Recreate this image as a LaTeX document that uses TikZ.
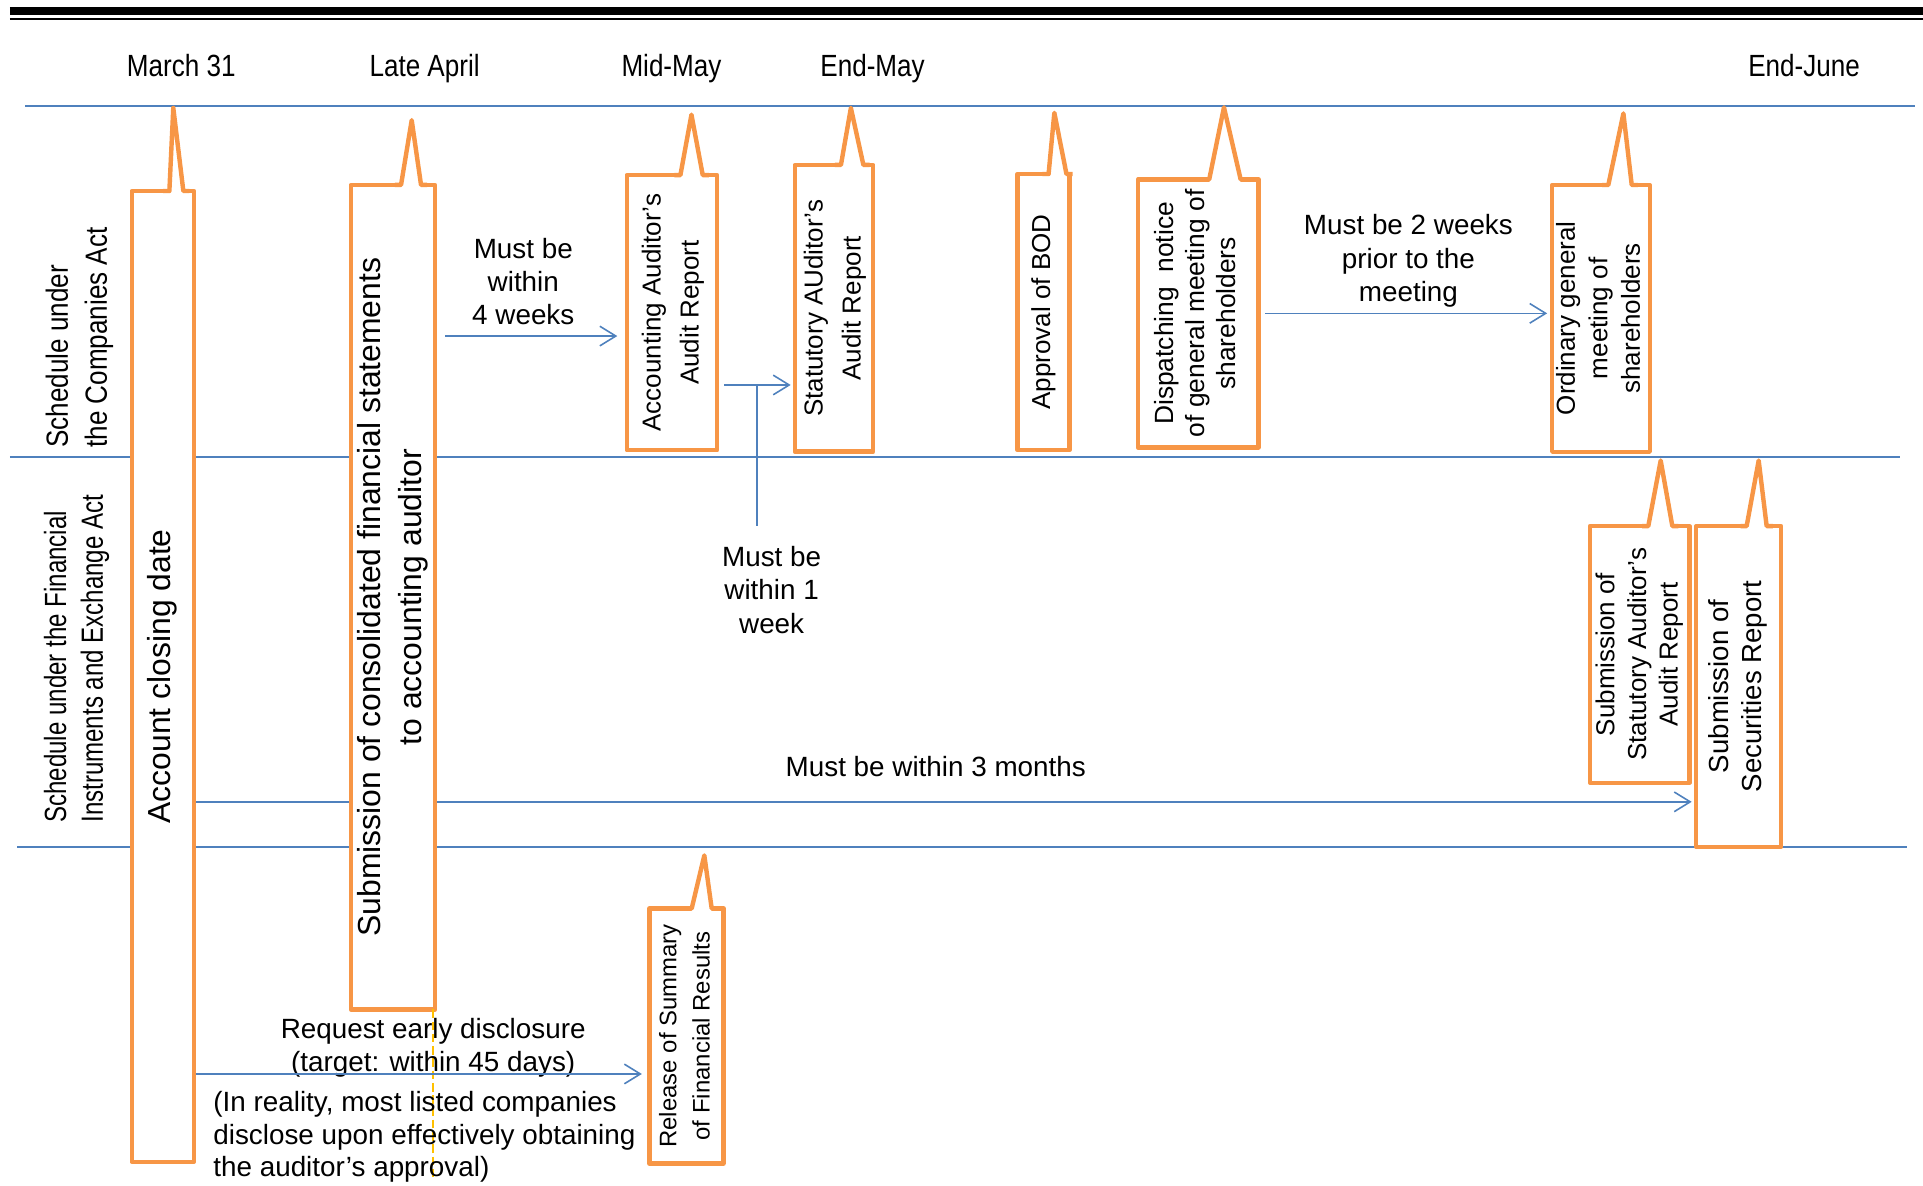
\documentclass[tikz,border=0pt]{standalone}
\usepackage{fontspec}
\setmainfont{Liberation Sans}
\newfontfamily\condfont[FakeStretch=0.85]{Liberation Sans}
\newfontfamily\condfontB[FakeStretch=0.785]{Liberation Sans}
\usepackage{graphicx}
\usetikzlibrary{positioning, backgrounds, arrows.meta, calc}

\definecolor{calloutorange}{RGB}{247,150,70}
\definecolor{lineblue}{RGB}{79,129,189}
\definecolor{guideyellow}{RGB}{255,192,0}

\tikzset{
	rule/.style={draw=lineblue, line width=1.4pt},
	link/.style={draw=lineblue, line width=1.3pt, -{Straight Barb[length=13pt,width=16pt]}},
	card/.style={draw=calloutorange, fill=white, line width=3.6pt, line join=round, inner sep=0pt, outer sep=0pt, font={\fontsize{21.2}{26.5}\selectfont}},
	card edge/.style={draw=calloutorange, line width=3.6pt, line join=round},
	datelbl/.style={anchor=base, inner sep=0pt, font={\condfont\fontsize{25}{30}\selectfont}},
	actlbl/.style={rotate=90, anchor=west, align=left, inner sep=0pt},
	note/.style={align=center, inner sep=0pt, font={\fontsize{22.7}{27.2}\selectfont}}
}

\newcommand{\vlabel}[1]{\rotatebox{90}{\begin{tabular}{@{}c@{}}#1\end{tabular}}}
\newcommand{\spike}[4]{%
	\fill[white] ($(#1.north -| #2,0)+(0,2.5)$) -- (#1.north -| #2,0) -- (#4) -- (#1.north -| #3,0) -- ($(#1.north -| #3,0)+(0,2.5)$) -- cycle;
	\draw[card edge] ($(#1.north -| #2,0)+(-5,0)$) -- (#1.north -| #2,0) -- (#4) -- (#1.north -| #3,0) -- ($(#1.north -| #3,0)+(5,0)$);
}

\begin{document}
\begin{tikzpicture}[x=1pt, y=-1pt]
	\useasboundingbox (0,0) rectangle (1568,967);
	\draw[line width=6.2pt] (8,9.1) -- (1568,9.1);
	\draw[line width=2.2pt] (8,15.5) -- (1568,15.5);

	\node[datelbl] (mar31) at (147.8,62) {March 31};
	\node[datelbl] (lateapr) at (346.2,62) {Late April};
	\node[datelbl] (midmay) at (547.5,62) {Mid-May};
	\node[datelbl] (endmay) at (711.5,62) {End-May};
	\node[datelbl] (endjun) at (1471,62) {End-June};

	\node[actlbl, font={\condfont\fontsize{25}{31.8}\selectfont}] (compact) at (64.8,365.2) {Schedule under\\the Companies Act};
	\node[actlbl, font={\condfontB\fontsize{25}{29.9}\selectfont}] (fieact) at (62.5,671) {Schedule under the Financial\\Instruments and Exchange Act};

	\node[card, minimum width=50.8pt, minimum height=791.5pt, font={\fontsize{26}{32}\selectfont}] (close) at (132.8,551.5) {\vlabel{Account closing date}};
	\spike{close}{138.1}{149.5}{141.3,88}
	\node[card, minimum width=68.7pt, minimum height=672.2pt, font={\fontsize{26}{33}\selectfont}] (subm) at (320.4,486.9) {\vlabel{Submission of consolidated financial statements\\to accounting auditor}};
	\spike{subm}{327}{343.3}{335.7,98}
	\node[card, minimum width=73.7pt, minimum height=224.3pt, font={\fontsize{21.2}{31}\selectfont}] (acc) at (547.9,254.9) {\vlabel{Accounting Auditor’s\\Audit Report}};
	\spike{acc}{554.8}{573}{563.8,93.5}
	\node[card, minimum width=64pt, minimum height=233.8pt, font={\fontsize{21.2}{31}\selectfont}] (stat) at (680,251.4) {\vlabel{Statutory AUditor’s\\Audit Report}};
	\spike{stat}{685.7}{704}{693.8,88}
	\node[card, minimum width=42.5pt, minimum height=225pt] (bod) at (850.9,254.4) {\vlabel{Approval of BOD}};
	\spike{bod}{855}{869.6}{859.7,92}
	\node[card, minimum width=98.3pt, minimum height=218.5pt, font={\fontsize{21.5}{25}\selectfont}] (disp) at (977,255.5) {\vlabel{Dispatching\ \ notice\\of general meeting of\\shareholders}};
	\spike{disp}{986}{1011.6}{998,87.5}
	\node[card, minimum width=74.7pt, minimum height=217.5pt] (agm) at (1305.4,259.6) {\vlabel{Ordinary general\\meeting of\\shareholders}};
	\spike{agm}{1311.4}{1330.5}{1323.7,92.5}
	\node[card, minimum width=81pt, minimum height=209.3pt, font={\fontsize{21.2}{25.8}\selectfont}] (stataud) at (1337,533.6) {\vlabel{Submission of\\Statutory Auditor’s\\Audit Report}};
	\spike{stataud}{1344}{1363.6}{1354.1,375.5}
	\node[card, minimum width=69.2pt, minimum height=261.5pt, font={\fontsize{22.5}{27.2}\selectfont}] (secrep) at (1417.6,559.7) {\vlabel{Submission of\\Securities Report}};
	\spike{secrep}{1424.2}{1440.5}{1434,375.5}
	\node[card, minimum width=60.3pt, minimum height=207.9pt, font={\fontsize{19.5}{27}\selectfont}] (release) at (559.7,844.7) {\vlabel{Release of Summary\\of Financial Results}};
	\spike{release}{564}{580.3}{574.3,697.5}

	\draw[guideyellow, line width=1.2pt, dash pattern=on 7pt off 3pt] (subm.south -| 353.2,0) -- (353.2,960);

	\node[note] (w4txt) at (426.7,229.5) {Must be\\within\\4 weeks};
	\node[note] (w1txt) at (629.2,480.9) {Must be\\within 1\\week};
	\node[note] (w2txt) at (1148.4,212.9) {Must be 2 weeks\\prior to the\\meeting};
	\node[note] (m3txt) at (763,624.8) {Must be within 3 months};
	\node[note] (reqtxt) at (353.2,854.3) {Request early disclosure\\(target: within 45 days)};
	\node[note, align=left, anchor=west, font={\fontsize{22.7}{26.5}\selectfont}] (realtxt) at (173.8,927) {(In reality, most listed companies\\disclose upon effectively obtaining\\the auditor’s approval)};

	\draw[link] ($(subm.east |- 0,274)+(8.2,0)$) -- ($(acc.west |- 0,274)+(-7.7,0)$);
	\draw[link] ($(acc.east |- 0,313.9)+(5.6,0)$) -- coordinate[pos=0.49] (wkjoin) ($(stat.west |- 0,313.9)+(-3.3,0)$);
	\draw[rule, line width=1.8pt] (wkjoin) -- ($(wkjoin |- w1txt.north)+(0,-16.5)$);
	\draw[link] ($(disp.east |- 0,255.5)+(5.4,0)$) -- ($(agm.west |- 0,255.5)+(-4.1,0)$);
	\draw[link] ($(close.east |- 0,875.7)+(1.8,0)$) -- ($(release.west |- 0,875.7)+(-6.2,0)$);

	\begin{scope}[on background layer]
		\draw[rule] (20.7,86.2) -- (1561.5,86.2);
		\draw[rule] (8,372.4) -- (1549,372.4);
		\draw[rule] (14,690.4) -- (1554.7,690.4);
		\draw[link] (close.east |- 0,653.8) -- ($(secrep.west |- 0,653.8)+(-3.6,0)$);
	\end{scope}
\end{tikzpicture}
\end{document}
